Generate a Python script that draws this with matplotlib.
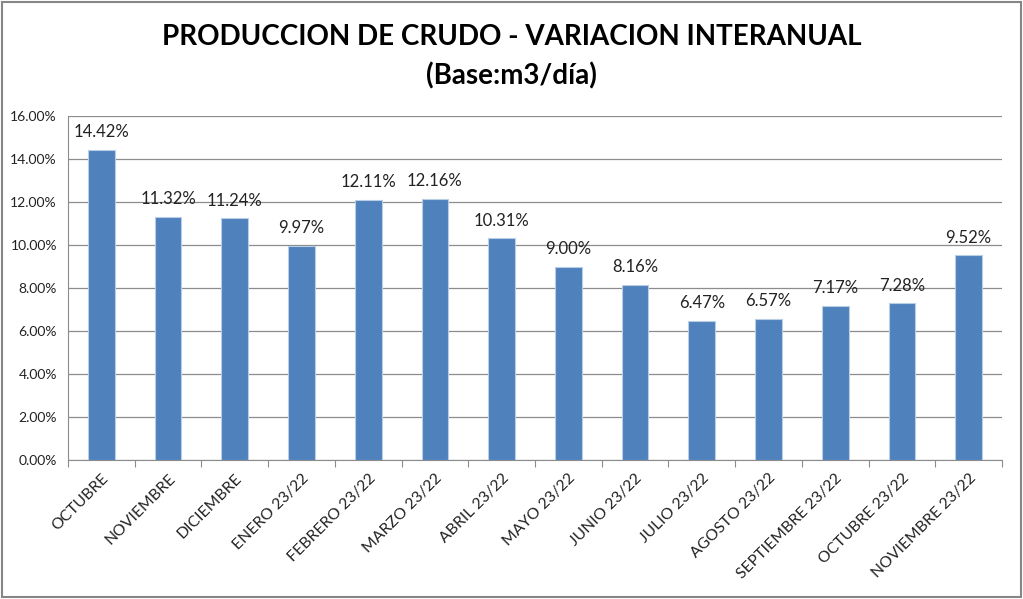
import matplotlib
matplotlib.use("Agg")
import matplotlib.pyplot as plt
from matplotlib.patches import Rectangle

categories = ["OCTUBRE", "NOVIEMBRE", "DICIEMBRE", "ENERO 23/22", "FEBRERO 23/22",
              "MARZO 23/22", "ABRIL 23/22", "MAYO 23/22", "JUNIO 23/22", "JULIO 23/22",
              "AGOSTO 23/22", "SEPTIEMBRE 23/22", "OCTUBRE 23/22", "NOVIEMBRE 23/22"]
values = [14.42, 11.32, 11.24, 9.97, 12.11, 12.16, 10.31, 9.00, 8.16, 6.47, 6.57, 7.17, 7.28, 9.52]
yticks = [0, 2, 4, 6, 8, 10, 12, 14, 16]

plt.rcParams['font.family'] = ['Lato', 'DejaVu Sans']

fig = plt.figure(figsize=(10.23, 5.99), dpi=100)
ax = fig.add_axes([68/1023, 1-460/599, (1002-68)/1023, (460-116)/599])

x = list(range(len(categories)))
bars = ax.bar(x, values, width=0.4, color="#4F81BD", edgecolor="#B9CDE5", linewidth=0.8, zorder=3)
ax.bar_label(bars, labels=[f"{v:.2f}%" for v in values], padding=7, fontsize=12, color="#222222")

ax.set_xlim(-0.5, len(categories)-0.5)
ax.set_ylim(0, 16)
ax.set_yticks(yticks)
ax.set_yticklabels([f"{t:.2f}%" for t in yticks], fontsize=10, color="#222222")
ax.yaxis.grid(True, color="#8C8C8C", linewidth=0.9, zorder=0)
ax.tick_params(axis='y', length=0, pad=8)

ax.set_xticks([i - 0.5 for i in range(len(categories)+1)], minor=False)
ax.set_xticklabels([])
ax.set_xticks(x, minor=True)
ax.set_xticklabels(categories, minor=True, rotation=45, ha='right', rotation_mode='anchor',
                   fontsize=11.3, color="#222222")
ax.tick_params(axis='x', which='major', length=5, color="#8C8C8C")
ax.tick_params(axis='x', which='minor', length=0, pad=8)

for s in ['top', 'right']:
    ax.spines[s].set_visible(False)
for s in ['left', 'bottom']:
    ax.spines[s].set_color("#8C8C8C")

fig.text(0.5, 1-37/599, "PRODUCCION DE CRUDO - VARIACION INTERANUAL", ha='center', va='center',
         fontsize=20, fontweight='bold', color="black")
fig.text(0.5, 1-76/599, "(Base:m3/día)", ha='center', va='center',
         fontsize=20, fontweight='bold', color="black")

fig.patches.append(Rectangle((2/1023, 2/599), 1-4/1023, 1-4/599, transform=fig.transFigure,
                             fill=False, edgecolor="#868686", linewidth=1.5))

fig.savefig("out.png", dpi=100)
